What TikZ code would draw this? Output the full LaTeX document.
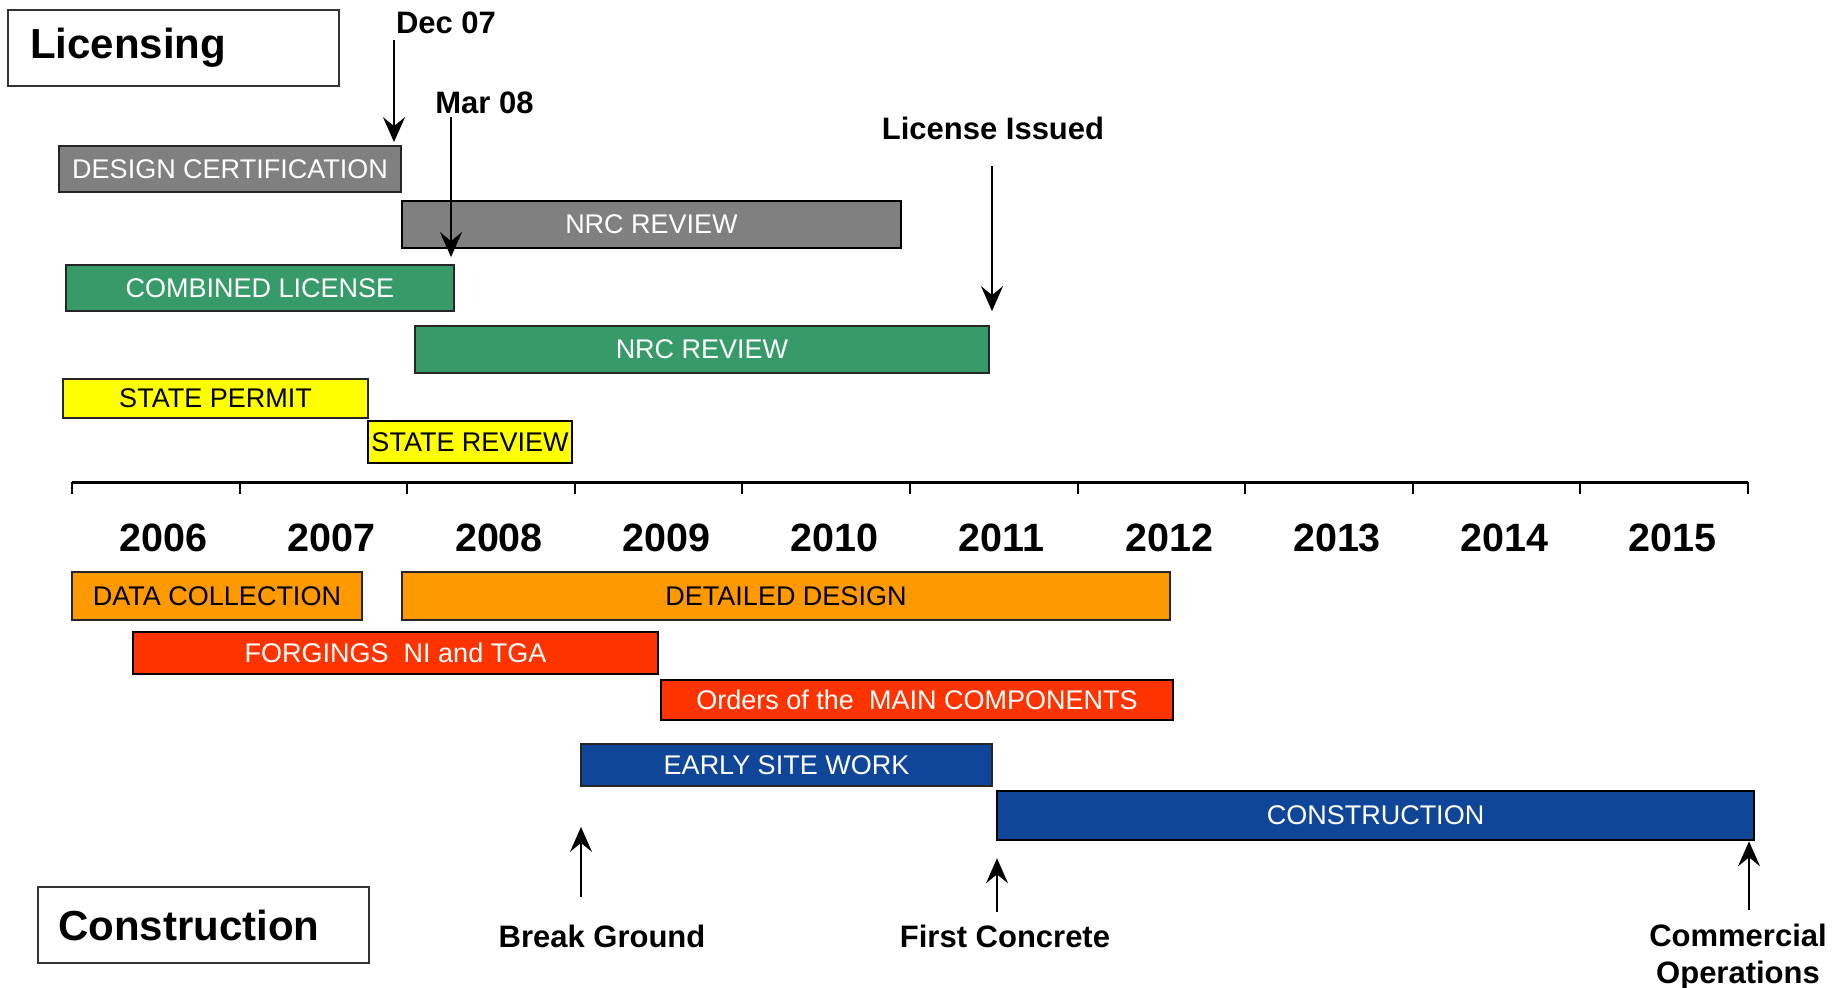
\documentclass[tikz,border=0pt]{standalone}
\usepackage{fontspec}
\setmainfont{Liberation Sans}
\usetikzlibrary{arrows.meta}
\definecolor{cgray}{HTML}{808080}
\definecolor{cgreen}{HTML}{379A69}
\definecolor{cyellow}{HTML}{FFFF00}
\definecolor{corange}{HTML}{FF9900}
\definecolor{cred}{HTML}{FF3300}
\definecolor{cblue}{HTML}{10469A}
\begin{document}
\begin{tikzpicture}[x=1pt,y=-1pt,
  bar/.style={draw=black!85, line width=1.8pt, inner sep=0pt, font=\fontsize{27}{31}\selectfont},
  thickbar/.style={bar, draw=black, line width=2.6pt},
  lbl/.style={inner sep=0pt, font=\fontsize{31}{37}\selectfont\bfseries},
  yr/.style={inner sep=0pt, font=\fontsize{39.5}{45}\selectfont\bfseries},
  titlebox/.style={draw=black!80, line width=2.2pt, inner ysep=0pt, inner xsep=22pt, text width=287pt, minimum height=76pt, align=left, anchor=north west},
  arr/.style={-{Stealth[length=25pt,width=22pt,inset=9pt]}, line width=2pt},
  tick/.style={line width=2pt}
]
\useasboundingbox (0,0) rectangle (1832,988);

% title boxes
\node[titlebox, font=\fontsize{42}{48}\selectfont\bfseries] (lic) at (7,9) {Licensing};
\node[titlebox, font=\fontsize{42}{48}\selectfont\bfseries, inner xsep=20pt, text width=291pt] (con) at (37,886) {Construction};

% licensing bars
\node[bar, fill=cgray, text=white, minimum width=342pt, minimum height=46pt] (dc) at (230,169) {DESIGN CERTIFICATION};
\node[thickbar, fill=cgray, text=white, minimum width=499pt, minimum height=47pt] (nrc1) at (651.5,224.5) {NRC REVIEW};
\node[bar, fill=cgreen, text=white, minimum width=388pt, minimum height=46pt] (col) at (260,288) {COMBINED LICENSE};
\node[bar, fill=cgreen, text=white, minimum width=574pt, minimum height=47pt] (nrc2) at (702,349.5) {NRC REVIEW};
\node[bar, fill=cyellow, text=black, minimum width=305pt, minimum height=39pt] (sp) at (215.5,398.5) {STATE PERMIT};
\node[thickbar, fill=cyellow, text=black, minimum width=204pt, minimum height=42pt] (sr) at (470,442) {STATE REVIEW};

% axis
\draw[line width=3pt] (72,482) -- (1748,482);
\foreach \i in {0,...,10} \draw[tick] ({72+167.6*\i},482) -- ({72+167.6*\i},494);
\foreach \y [count=\i from 0] in {2006,...,2015}
  \node[yr] (y\y) at ({72+167.6*\i+91.8},538) {\y};

% construction bars
\node[bar, fill=corange, text=black, minimum width=290pt, minimum height=48pt] (data) at (217,596) {DATA COLLECTION};
\node[bar, fill=corange, text=black, minimum width=768pt, minimum height=48pt] (design) at (786,596) {DETAILED DESIGN};
\node[thickbar, fill=cred, text=white, minimum width=525pt, minimum height=42pt] (forg) at (395.5,653) {FORGINGS\ \ NI and TGA};
\node[thickbar, fill=cred, text=white, minimum width=512pt, minimum height=40pt] (orders) at (917,700) {Orders of the\ \ MAIN COMPONENTS};
\node[bar, fill=cblue, text=white, minimum width=411pt, minimum height=42pt] (early) at (786.5,765) {EARLY SITE WORK};
\node[thickbar, fill=cblue, text=white, minimum width=757pt, minimum height=49pt] (constr) at (1375.5,815.5) {CONSTRUCTION};

% milestone labels
\node[lbl] (dec) at (446,22.5) {Dec 07};
\node[lbl] (mar) at (484.5,102.5) {Mar 08};
\node[lbl] (issued) at (993,128.5) {License Issued};
\node[lbl] (bg) at (602,936) {Break Ground};
\node[lbl] (fc) at (1005,936) {First Concrete};
\node[lbl, align=center, anchor=north] (co) at (1738,924) {Commercial\\Operations};

% milestone arrows
\coordinate (dectail) at (394,40);
\draw[arr, shorten >=3pt] (dectail) -- (dectail |- dc.north);
\coordinate (martail) at (451,117);
\draw[arr, shorten >=7pt] (martail) -- (martail |- col.north);
\coordinate (istail) at (992,166);
\draw[arr, shorten >=14pt] (istail) -- (istail |- nrc2.north);
\coordinate (bgtail) at (581,897);
\draw[arr, shorten >=40pt] (bgtail) -- (bgtail |- early.south);
\coordinate (fctail) at (997,912);
\draw[arr, shorten >=17pt] (fctail) -- (fctail |- constr.south);
\coordinate (cotail) at (1749,910);
\draw[arr] (cotail) -- (cotail |- constr.south);
\end{tikzpicture}
\end{document}
